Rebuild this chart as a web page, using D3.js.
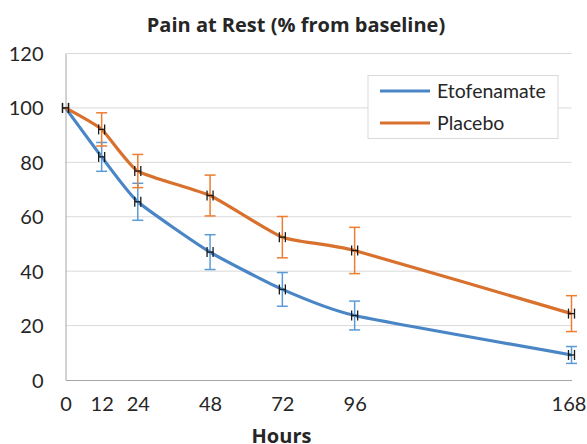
<!DOCTYPE html>
<html>
<head>
<meta charset="utf-8">
<script src="https://cdn.jsdelivr.net/npm/d3@7"></script>
<style>
  body { margin: 0; background: #fff; }
  text { font-family: Lato, "Open Sans", sans-serif; fill: #262626; }
  .bold { font-family: "Open Sans", Lato, sans-serif; font-weight: bold; }
</style>
</head>
<body>
<svg id="chart" width="587" height="444"></svg>
<script>
// data
var hours = [0, 12, 24, 48, 72, 96, 168]
var etofenamate = [100, 82, 65.5, 47, 33.3, 23.7, 9.2]
var etofenamateErr = [0, 5.3, 6.8, 6.4, 6.2, 5.3, 3.1]
var placebo = [100, 92.1, 76.8, 67.8, 52.5, 47.6, 24.4]
var placeboErr = [0, 6.1, 6.1, 7.5, 7.6, 8.5, 6.6]
var yTicks = [0, 20, 40, 60, 80, 100, 120]
var seriesNames = ["Etofenamate", "Placebo"]

var lineColors = ["#4A86C5", "#D9712E"]
var errColors = ["#5B9BD5", "#ED7D31"]

var svg = d3.select("#chart")

var x = d3.scaleLinear().domain([0, 168]).range([65.5, 571.5])
var y = d3.scaleLinear().domain([0, 120]).range([380, 53.5])

// gridlines
svg.append("g")
  .selectAll("line")
  .data(yTicks.filter(function(d){ return d > 0 }))
  .enter()
  .append("line")
    .attr("x1", x(0)).attr("x2", x(168))
    .attr("y1", function(d){ return y(d) }).attr("y2", function(d){ return y(d) })
    .style("stroke", "#d9d9d9").style("stroke-width", 1)

// axes
var yAxis = svg.append("g").attr("transform", "translate(" + x(0) + ",0)")
  .call(d3.axisLeft(y).tickValues(yTicks).tickSize(0).tickPadding(22))
yAxis.select(".domain").style("stroke", "#a6a6a6")
yAxis.selectAll("text").style("font-size", "20px").attr("dy", "0.35em")

var xAxis = svg.append("g").attr("transform", "translate(0," + y(0) + ")")
  .call(d3.axisBottom(x).tickValues(hours).tickSize(0).tickPadding(17))
xAxis.select(".domain").style("stroke", "#a6a6a6")
xAxis.selectAll("text").style("font-size", "20px")
// last label is pushed in a bit so it stays inside the picture
xAxis.selectAll("text").filter(function(d){ return d == 168 }).attr("dx", -3)

// title + axis title
svg.append("text")
  .attr("class", "bold")
  .attr("x", 296).attr("y", 31.5)
  .attr("text-anchor", "middle")
  .style("font-size", "20px")
  .text("Pain at Rest (% from baseline)")

svg.append("text")
  .attr("class", "bold")
  .attr("x", 281.5).attr("y", 443)
  .attr("text-anchor", "middle")
  .style("font-size", "20px")
  .text("Hours")

var line = d3.line()
  .x(function(d){ return x(d[0]) })
  .y(function(d){ return y(d[1]) })
  .curve(d3.curveCardinal.tension(0.5))

var series = [etofenamate, placebo]
var errs = [etofenamateErr, placeboErr]

series.forEach(function(vals, s) {
  var pts = hours.map(function(h, i){ return [h, vals[i], errs[s][i]] })

  svg.append("path")
    .datum(pts)
    .attr("d", line)
    .style("fill", "none")
    .style("stroke", lineColors[s])
    .style("stroke-width", 3.2)
    .style("stroke-linejoin", "round")

  // vertical error bars
  var eb = svg.append("g")
    .selectAll("g")
    .data(pts.filter(function(d){ return d[2] > 0 }))
    .enter()
    .append("g")
    .style("stroke", errColors[s]).style("stroke-width", 1.5)
  eb.append("line")
    .attr("x1", function(d){ return x(d[0]) }).attr("x2", function(d){ return x(d[0]) })
    .attr("y1", function(d){ return y(d[1] + d[2]) }).attr("y2", function(d){ return y(d[1] - d[2]) })
  eb.append("line")
    .attr("x1", function(d){ return x(d[0]) - 5.5 }).attr("x2", function(d){ return x(d[0]) + 5.5 })
    .attr("y1", function(d){ return y(d[1] + d[2]) }).attr("y2", function(d){ return y(d[1] + d[2]) })
  eb.append("line")
    .attr("x1", function(d){ return x(d[0]) - 5.5 }).attr("x2", function(d){ return x(d[0]) + 5.5 })
    .attr("y1", function(d){ return y(d[1] - d[2]) }).attr("y2", function(d){ return y(d[1] - d[2]) })

  // small black horizontal error bars (+/- 1 h)
  var hb = svg.append("g")
    .selectAll("g")
    .data(pts)
    .enter()
    .append("g")
    .style("stroke", "#1a1a1a").style("stroke-width", 1.3)
  hb.append("line")
    .attr("x1", function(d){ return x(d[0] - 1) }).attr("x2", function(d){ return x(d[0] + 1) })
    .attr("y1", function(d){ return y(d[1]) }).attr("y2", function(d){ return y(d[1]) })
  hb.append("line")
    .attr("x1", function(d){ return x(d[0] - 1) }).attr("x2", function(d){ return x(d[0] - 1) })
    .attr("y1", function(d){ return y(d[1]) - 5 }).attr("y2", function(d){ return y(d[1]) + 5 })
  hb.append("line")
    .attr("x1", function(d){ return x(d[0] + 1) }).attr("x2", function(d){ return x(d[0] + 1) })
    .attr("y1", function(d){ return y(d[1]) - 5 }).attr("y2", function(d){ return y(d[1]) + 5 })
})

// legend
var legend = svg.append("g")
legend.append("rect")
  .attr("x", 368).attr("y", 75.5).attr("width", 190).attr("height", 63)
  .style("fill", "#fff").style("stroke", "#d9d9d9")

legend.selectAll("mylines")
  .data(lineColors)
  .enter()
  .append("line")
    .attr("x1", 380).attr("x2", 430)
    .attr("y1", function(d,i){ return 91 + i*32 }).attr("y2", function(d,i){ return 91 + i*32 })
    .style("stroke", function(d){ return d }).style("stroke-width", 3.2)

legend.selectAll("mylabels")
  .data(seriesNames)
  .enter()
  .append("text")
    .attr("x", 437)
    .attr("y", function(d,i){ return 91 + i*32 })
    .attr("dy", "0.35em")
    .style("font-size", "19.5px")
    .text(function(d){ return d })
</script>
</body>
</html>
